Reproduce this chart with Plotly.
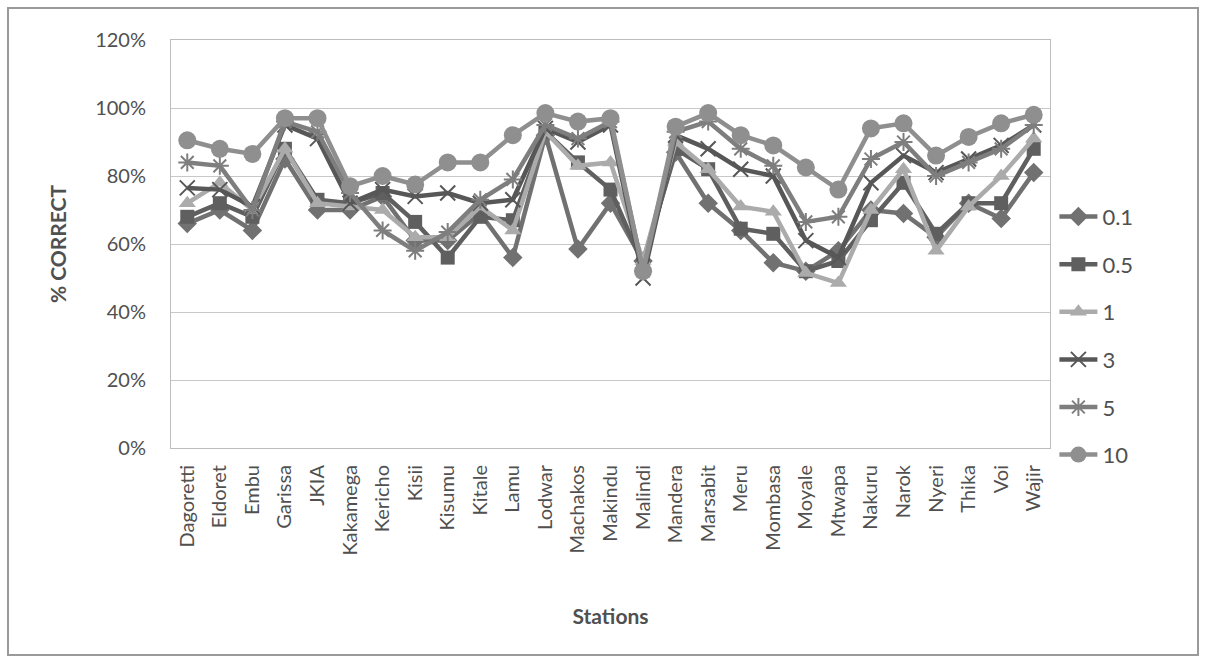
import plotly.graph_objects as go

stations = ["Dagoretti", "Eldoret", "Embu", "Garissa", "JKIA", "Kakamega", "Kericho", "Kisii",
            "Kisumu", "Kitale", "Lamu", "Lodwar", "Machakos", "Makindu", "Malindi", "Mandera",
            "Marsabit", "Meru", "Mombasa", "Moyale", "Mtwapa", "Nakuru", "Narok", "Nyeri",
            "Thika", "Voi", "Wajir"]

s_0_1 = [0.66, 0.70, 0.64, 0.85, 0.70, 0.70, 0.74, 0.61, 0.61, 0.69, 0.56, 0.92, 0.585, 0.72, 0.55,
         0.87, 0.72, 0.64, 0.545, 0.52, 0.58, 0.70, 0.69, 0.62, 0.72, 0.675, 0.81]
s_0_5 = [0.68, 0.72, 0.68, 0.88, 0.73, 0.72, 0.75, 0.665, 0.56, 0.68, 0.67, 0.93, 0.84, 0.76, 0.54,
         0.88, 0.82, 0.645, 0.63, 0.52, 0.55, 0.67, 0.78, 0.63, 0.72, 0.72, 0.88]
s_1 = [0.72, 0.78, 0.70, 0.88, 0.72, 0.71, 0.70, 0.62, 0.62, 0.71, 0.64, 0.93, 0.83, 0.84, 0.55,
       0.90, 0.82, 0.71, 0.695, 0.515, 0.485, 0.70, 0.82, 0.58, 0.71, 0.80, 0.91]
s_3 = [0.765, 0.76, 0.71, 0.95, 0.91, 0.72, 0.76, 0.74, 0.75, 0.72, 0.73, 0.94, 0.90, 0.95, 0.50,
       0.92, 0.88, 0.82, 0.80, 0.61, 0.56, 0.78, 0.86, 0.81, 0.85, 0.89, 0.95]
s_5 = [0.84, 0.83, 0.70, 0.96, 0.93, 0.75, 0.64, 0.58, 0.635, 0.73, 0.79, 0.95, 0.91, 0.96, 0.52,
       0.93, 0.96, 0.88, 0.83, 0.665, 0.68, 0.85, 0.90, 0.80, 0.84, 0.88, 0.95]
s_10 = [0.905, 0.88, 0.865, 0.97, 0.97, 0.77, 0.80, 0.775, 0.84, 0.84, 0.92, 0.985, 0.96, 0.97, 0.52,
        0.945, 0.985, 0.92, 0.89, 0.825, 0.76, 0.94, 0.955, 0.86, 0.915, 0.955, 0.98]

series_names = ["0.1", "0.5", "1", "3", "5", "10"]
series_values = [s_0_1, s_0_5, s_1, s_3, s_5, s_10]
y_ticks = [0, 0.2, 0.4, 0.6, 0.8, 1.0, 1.2]
y_tick_labels = ["0%", "20%", "40%", "60%", "80%", "100%", "120%"]

styles = [
    dict(color="#717171", symbol="diamond", size=15),
    dict(color="#5f5f5f", symbol="square", size=14),
    dict(color="#ababab", symbol="triangle-up", size=15),
    dict(color="#575757", symbol="x-thin", size=15),
    dict(color="#7e7e7e", symbol="asterisk", size=15),
    dict(color="#8f8f8f", symbol="circle", size=18),
]

FONT = "Lato, 'Open Sans', sans-serif"
TXT = "#505050"

fig = go.Figure()
for name, vals, st in zip(series_names, series_values, styles):
    thin = st["symbol"] in ("x-thin", "asterisk")
    fig.add_trace(go.Scatter(
        x=stations, y=vals, name=name, mode="lines+markers",
        legendgroup=name,
        line=dict(color=st["color"], width=4.5),
        marker=dict(symbol=st["symbol"], size=st["size"], color=st["color"],
                    line=dict(color=st["color"], width=2 if thin else 0)),
    ))

L, R, T, B = 171, 155, 40, 212
W, H = 1205, 660
pw, ph = W - L - R, H - T - B

def px_x(p):
    return (p - L) / pw

def px_y(p):
    return (H - B - p) / ph

fig.update_layout(
    width=W, height=H,
    margin=dict(l=L, r=R, t=T, b=B),
    paper_bgcolor="white", plot_bgcolor="white",
    font=dict(family=FONT, size=20, color=TXT),
    showlegend=True,
    legend=dict(x=1.005, xanchor="left", y=0.275, yanchor="middle",
                font=dict(size=22, color=TXT),
                tracegroupgap=16, itemwidth=38, bgcolor="rgba(0,0,0,0)"),
    xaxis=dict(
        type="category", range=[-0.5, len(stations) - 0.5], autorange=False,
        tickangle=-90, tickfont=dict(size=20, color=TXT),
        showgrid=False, showline=True, linecolor="#bdbdbd", linewidth=1, mirror=True,
        ticks="", ticklabelstandoff=8,
        title=dict(text="<b>Stations</b>", font=dict(size=21, color=TXT), standoff=54),
    ),
    yaxis=dict(
        range=[0, 1.2], tickvals=y_ticks, ticktext=y_tick_labels,
        tickfont=dict(size=20, color=TXT),
        showgrid=True, gridcolor="#c8c8c8", gridwidth=1,
        showline=True, linecolor="#bdbdbd", linewidth=1, mirror=True,
        zeroline=False, ticks="", ticklabelstandoff=20,
        title=dict(text="<b>% CORRECT</b>", font=dict(size=21, color=TXT), standoff=22),
    ),
    shapes=[dict(type="rect", xref="paper", yref="paper",
                 x0=px_x(8), x1=px_x(1198), y0=px_y(655), y1=px_y(8),
                 line=dict(color="#9a9a9a", width=2), fillcolor="rgba(0,0,0,0)", layer="below")],
)

fig.write_html("out.html")
